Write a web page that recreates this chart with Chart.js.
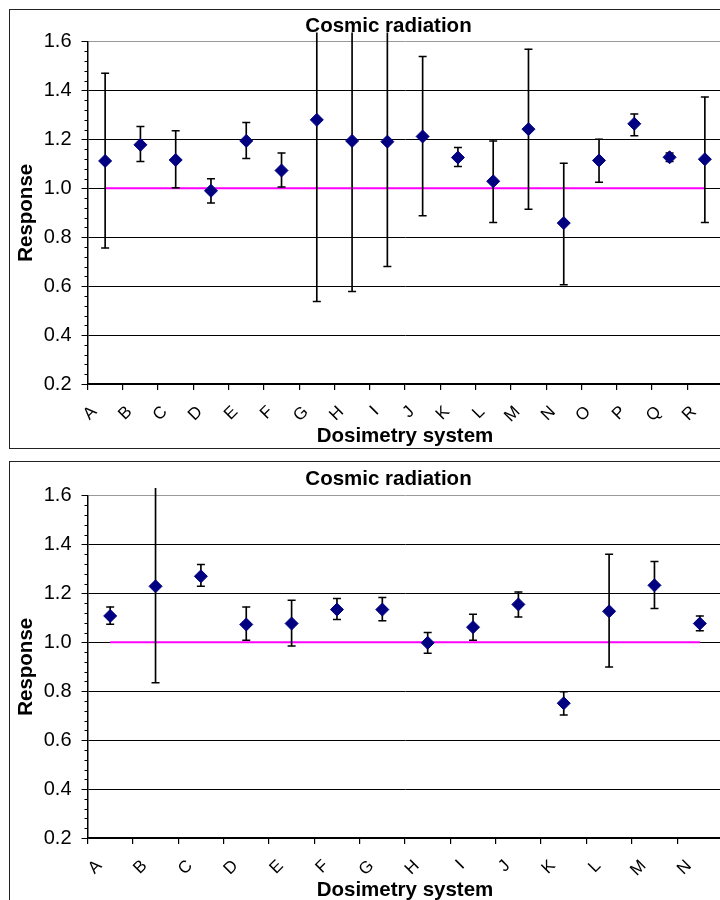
<!DOCTYPE html>
<html><head><meta charset="utf-8">
<script src="https://cdn.jsdelivr.net/npm/chart.js@4.4.1/dist/chart.umd.min.js"></script>
<style>
html,body{margin:0;padding:0;background:#fff;overflow:hidden;width:720px;height:900px;}
.box{position:absolute;left:9px;width:900px;border:1.5px solid #222;box-sizing:border-box;background:#fff;}
canvas{position:absolute;left:0;top:0;}
</style></head><body>
<div class="box" style="top:9px;height:440px;"><canvas id="c1" width="757" height="440"></canvas></div>
<div class="box" style="top:461px;height:500px;"><canvas id="c2" width="757" height="442"></canvas></div>
<script>
const chartTitle = 'Cosmic radiation';
const xAxisTitle = 'Dosimetry system';
const yAxisTitle = 'Response';
const yMin = 0.2, yMax = 1.6, yStep = 0.2, yMinorStep = 0.04;
const referenceResponse = 1.0;

const topSystems  = ['A','B','C','D','E','F','G','H','I','J','K','L','M','N','O','P','Q','R'];
const topResponse = [1.112,1.178,1.116,0.990,1.194,1.073,1.280,1.194,1.191,1.212,1.126,1.029,1.242,0.858,1.114,1.264,1.127,1.119];
const topLower    = [0.756,1.110,1.002,0.940,1.122,1.006,0.537,0.578,0.680,0.888,1.089,0.860,0.915,0.606,1.025,1.215,1.110,0.860];
const topUpper    = [1.471,1.253,1.235,1.039,1.269,1.144,2.020,1.810,1.700,1.539,1.167,1.194,1.569,1.103,1.201,1.304,1.144,1.373];

const bottomSystems  = ['A','B','C','D','E','F','G','H','I','J','K','L','M','N'];
const bottomResponse = [1.108,1.229,1.270,1.073,1.077,1.134,1.134,0.998,1.062,1.155,0.751,1.127,1.233,1.077];
const bottomLower    = [1.074,0.835,1.229,1.009,0.985,1.093,1.088,0.955,1.009,1.104,0.703,0.899,1.138,1.047];
const bottomUpper    = [1.145,1.630,1.318,1.144,1.172,1.179,1.183,1.040,1.115,1.206,0.798,1.360,1.331,1.108];

const FONT = "'Liberation Sans', Arial, sans-serif";

const minorTicks = {
  id: 'minorTicks',
  afterDraw(chart) {
    const ys = chart.scales.y, ctx = chart.ctx, x0 = chart.chartArea.left;
    ctx.save();
    ctx.strokeStyle = '#000'; ctx.lineWidth = 1;
    ctx.beginPath();
    const n = Math.round((yMax - yMin) / yMinorStep);
    for (let i = 0; i <= n; i++) {
      const v = yMin + i * yMinorStep;
      if (Math.abs(v / yStep - Math.round(v / yStep)) < 1e-6) continue;
      const py = Math.round(ys.getPixelForValue(v)) + 0.5;
      ctx.moveTo(x0 - 3, py); ctx.lineTo(x0, py);
    }
    ctx.stroke();
    ctx.restore();
  }
};

function makeChart(id, labels, resp, lower, upper, titlePad) {
  const clip = {left: 10, top: 9, right: 10, bottom: 10};
  return new Chart(document.getElementById(id), {
    type: 'bar',
    data: {
      labels: labels,
      datasets: [
        { type: 'line', data: resp, showLine: false, order: 0,
          pointStyle: 'rectRot', pointRadius: 6.5, pointBackgroundColor: '#000080',
          pointBorderColor: '#000080', pointBorderWidth: 1 },
        { type: 'line', data: upper, showLine: false, order: 1, clip: clip,
          pointStyle: 'line', pointRadius: 4, pointBorderColor: '#000', pointBorderWidth: 1.5 },
        { type: 'line', data: lower, showLine: false, order: 1, clip: clip,
          pointStyle: 'line', pointRadius: 4, pointBorderColor: '#000', pointBorderWidth: 1.5 },
        { type: 'bar', data: labels.map((_, i) => [lower[i], upper[i]]), order: 2, clip: clip,
          barThickness: 1, backgroundColor: '#000', borderWidth: 0 },
        { type: 'line', data: labels.map(() => referenceResponse), order: 3,
          borderColor: '#FF00FF', borderWidth: 2, pointRadius: 0, fill: false }
      ]
    },
    options: {
      responsive: false, animation: false, devicePixelRatio: 1,
      layout: { padding: 0 },
      plugins: {
        legend: { display: false }, tooltip: { enabled: false },
        title: { display: true, text: chartTitle, color: '#000',
          font: { family: FONT, size: 20.5, weight: 'bold' }, padding: titlePad }
      },
      scales: {
        x: {
          type: 'category', offset: true,
          grid: { offset: true, drawOnChartArea: false, drawTicks: true, tickLength: 6, color: '#000', lineWidth: 1.2 },
          border: { display: true, color: '#000', width: 1.5 },
          ticks: { minRotation: 45, maxRotation: 45, autoSkip: false, color: '#000', labelOffset: -11, padding: 12,
            font: { family: FONT, size: 17 } },
          title: { display: true, text: xAxisTitle, color: '#000', font: { family: FONT, size: 20.5, weight: 'bold' },
            padding: { top: 0, bottom: 1 } },
          afterFit: (s) => { s.height = 66; }
        },
        y: {
          min: yMin, max: yMax,
          grid: { color: (c) => (c.tick && Math.abs(c.tick.value - yMax) < 1e-6) ? '#999' : '#000',
            lineWidth: 1, tickLength: 6, tickColor: '#000' },
          border: { display: true, color: '#000', width: 1.5 },
          ticks: { stepSize: yStep, color: '#000', padding: 10, font: { family: FONT, size: 20 },
            callback: (v) => Number(v).toFixed(1) },
          title: { display: true, text: yAxisTitle, color: '#000', font: { family: FONT, size: 20.5, weight: 'bold' },
            padding: { top: 4, bottom: 4 } },
          afterFit: (s) => { s.width = 77.5; }
        },
        rightSpace: {
          type: 'linear', axis: 'y', position: 'right', display: true,
          grid: { display: false, drawTicks: false }, border: { display: false },
          ticks: { display: false }, title: { display: false },
          afterFit: (s) => { s.width = 44.5; }
        }
      }
    },
    plugins: [minorTicks]
  });
}

makeChart('c1', topSystems, topResponse, topLower, topUpper, { top: 4, bottom: 3 });
makeChart('c2', bottomSystems, bottomResponse, bottomLower, bottomUpper, { top: 5, bottom: 4 });
</script>
</body></html>
